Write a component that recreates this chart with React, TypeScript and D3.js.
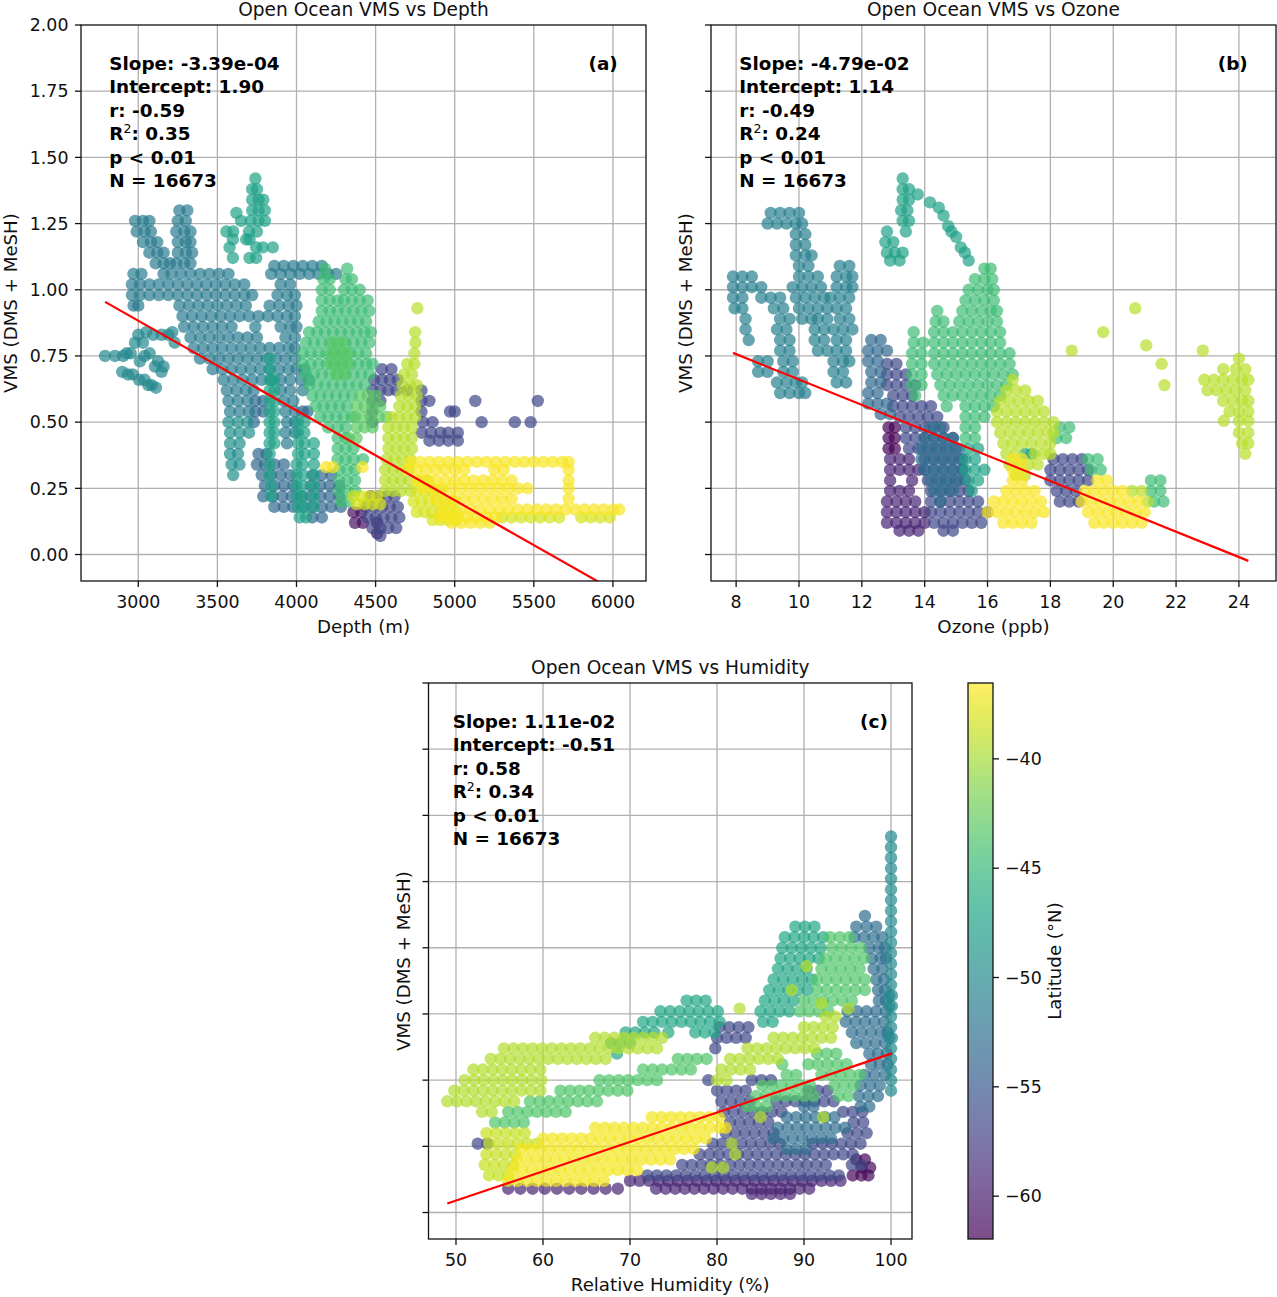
import * as d3 from "d3";
import { useEffect, useRef } from "react";

// [VMS value, x values along that VMS level]
type Row = [number, number[]];
// [latitude, rows of points]
type Group = [number, Row[]];

// ---- shared axes ----
const vmsTicks = [0, 0.25, 0.5, 0.75, 1.0, 1.25, 1.5, 1.75, 2.0];
const vmsRange: [number, number] = [-0.1, 2.0];
const latTicks = [-40, -45, -50, -55, -60];
const latRange: [number, number] = [-61.96, -36.53];

// ---- (a) VMS vs depth ----
const depthTicks = [3000, 3500, 4000, 4500, 5000, 5500, 6000];
const depthFit = [-3.39e-4, 1.9];
const depthStats = ["Slope: -3.39e-04", "Intercept: 1.90", "r: -0.59", "R2: 0.35", "p < 0.01", "N = 16673"];

const depthPurple: Row[] = [
  [0.16, [4360, 4410]], [0.12, [4370, 4420, 4510]], [0.08, [4510]],
];
const depthBlue: Row[] = [
  [0.70, [4540, 4600]],
  [0.66, [4490, 4540, 4590, 4640]],
  [0.62, [4480, 4530, 4580, 4630, 4700, 4790]],
  [0.58, [4480, 4530, 4790, 4840, 5130, 5525]],
  [0.54, [4480, 4790, 4970, 5000]],
  [0.50, [4480, 4800, 4860, 5170, 5380, 5480]],
  [0.46, [4790, 4850, 4910, 4960, 5020]],
  [0.43, [4840, 4900, 4960, 5020]],
  [0.22, [4470, 4520, 4570, 4620]],
  [0.18, [4440, 4490, 4540, 4590, 4640]],
  [0.14, [4450, 4500, 4550, 4600, 4650]],
  [0.10, [4480, 4530, 4580, 4630]],
  [0.07, [4530]],
];
const depthTealBlue: Row[] = [
  [0.58, [3740, 3790]],
  [0.54, [3740, 3790, 4040, 4070]],
  [0.50, [3730]],
  [0.38, [3760, 3810]],
  [0.34, [3750, 3800, 3860, 3920]],
  [0.30, [3780, 3840, 3900, 3960, 4100, 4160, 4220]],
  [0.26, [3800, 3860, 3920, 3980, 4090, 4150, 4210, 4270]],
  [0.22, [3790, 3850, 3910, 3970, 4030, 4090, 4150, 4210, 4270]],
  [0.18, [3860, 3920, 3980, 4040, 4100, 4160, 4220, 4280]],
  [0.14, [4100, 4160]],
];
const depthTeal: Row[] = [
  [1.30, [3260, 3310]],
  [1.26, [2980, 3030, 3070, 3250, 3300]],
  [1.22, [2990, 3040, 3080, 3240, 3290, 3330]],
  [1.18, [3030, 3080, 3120, 3250, 3300, 3330]],
  [1.14, [3070, 3120, 3160, 3250, 3300, 3340]],
  [1.10, [3110, 3160, 3200, 3240, 3290, 3330]],
  [1.09, [3860, 3920, 3980, 4040, 4100, 4160]],
  [1.06, [2970, 3020, 3160, 3210, 3270, 3330, 3390, 3450, 3510, 3570, 3840, 3900, 3960, 4020, 4080, 4140, 4200, 4250]],
  [1.02, [2960, 3010, 3070, 3130, 3190, 3250, 3310, 3370, 3430, 3490, 3550, 3610, 3670, 3900, 3960]],
  [0.98, [2960, 3010, 3070, 3130, 3190, 3250, 3310, 3370, 3430, 3490, 3550, 3610, 3670, 3720, 3880, 3940, 3990]],
  [0.94, [2970, 3000, 3260, 3320, 3380, 3440, 3500, 3560, 3620, 3680, 3830, 3890, 3950, 4000]],
  [0.90, [3280, 3340, 3400, 3460, 3520, 3580, 3640, 3700, 3760, 3820, 3880, 3940, 3990]],
  [0.86, [3290, 3350, 3410, 3470, 3530, 3590, 3740, 3900, 3960, 4000]],
  [0.82, [3330, 3390, 3450, 3510, 3570, 3630, 3690, 3750, 3930, 3990]],
  [0.78, [3350, 3410, 3470, 3530, 3590, 3650, 3710, 3770, 3830, 3890, 3950, 3990]],
  [0.74, [3390, 3450, 3510, 3570, 3630, 3690, 3750, 3810, 3870, 3930, 3990]],
  [0.70, [3470, 3530, 3590, 3650, 3710, 3770, 3830, 3890, 3950, 4000, 4050]],
  [0.66, [3540, 3600, 3660, 3720, 3780, 3840, 3900, 3960, 4030, 4080]],
  [0.62, [3560, 3620, 3680, 3730, 3900, 3960, 4040]],
  [0.58, [3570, 3630, 3690, 3920, 3980]],
  [0.54, [3580, 3640, 3700, 3930, 3990]],
  [0.50, [3940, 3990]],
  [0.46, [3930, 3990]],
  [0.42, [3940]],
];
const depthTealLeft: Row[] = [
  [0.84, [3050, 3215]],
  [0.83, [3000, 3094, 3147, 3190]],
  [0.80, [2979, 3030, 3230]],
  [0.76, [2926, 2952, 3072]],
  [0.75, [2790, 2853, 2905, 3040]],
  [0.73, [3010, 3125]],
  [0.71, [3105, 3160]],
  [0.69, [2899, 3147]],
  [0.68, [2935, 2965]],
  [0.66, [3005, 3040]],
  [0.64, [3063, 3085]],
  [0.63, [3112]],
];
const depthLobe: Row[] = [
  [0.50, [3570, 3630, 3690]],
  [0.46, [3580, 3640, 3700]],
  [0.42, [3580, 3640]],
  [0.38, [3580, 3630]],
  [0.34, [3590, 3640]],
  [0.30, [3600]],
];
const depthGreenTeal: Row[] = [
  [1.42, [3740]],
  [1.38, [3720, 3750]],
  [1.34, [3720, 3760, 3790]],
  [1.30, [3720, 3760, 3800]],
  [1.29, [3620]],
  [1.26, [3650, 3710, 3760, 3800]],
  [1.22, [3557, 3600, 3700, 3750]],
  [1.19, [3598, 3682, 3703]],
  [1.16, [3577, 3745, 3787, 3850]],
  [1.12, [3598, 3703, 3745]],
  [0.74, [3830]],
  [0.70, [3830]],
  [0.66, [3830, 3860]],
  [0.62, [3830, 3860]],
  [0.58, [3830, 3860]],
  [0.54, [3830, 3860]],
  [0.50, [3830, 3860, 4010, 4050]],
  [0.46, [3830, 3860, 4010, 4050]],
  [0.42, [3830, 3860, 4010, 4050, 4110]],
  [0.38, [3830, 4010, 4050, 4110]],
  [0.34, [3830, 4000, 4040, 4110]],
  [0.30, [3830, 4000, 4040, 4110]],
  [0.26, [3840, 4000, 4040, 4110]],
  [0.22, [3840, 4000, 4040, 4110]],
  [0.18, [4010, 4050, 4110]],
  [0.14, [4020, 4060]],
];
const depthGreen: Row[] = [
  [1.08, [4180, 4320]],
  [1.04, [4170, 4210, 4310, 4350]],
  [1.00, [4160, 4210, 4300, 4350, 4400]],
  [0.96, [4160, 4210, 4260, 4300, 4350, 4400, 4450]],
  [0.92, [4160, 4210, 4260, 4310, 4360, 4410, 4460]],
  [0.88, [4140, 4190, 4240, 4290, 4340, 4390, 4440]],
  [0.84, [4080, 4130, 4180, 4230, 4280, 4330, 4380, 4430, 4470]],
  [0.80, [4060, 4110, 4160, 4210, 4260, 4310, 4360, 4410, 4460]],
  [0.76, [4040, 4090, 4140, 4190, 4240, 4290, 4340, 4390, 4440]],
  [0.72, [4040, 4090, 4140, 4190, 4240, 4290, 4340, 4390, 4440, 4480]],
  [0.68, [4060, 4110, 4160, 4210, 4260, 4310, 4360, 4410, 4460]],
  [0.64, [4080, 4130, 4180, 4230, 4280, 4330, 4380, 4430]],
  [0.60, [4100, 4150, 4200, 4250, 4300, 4350]],
  [0.56, [4120, 4170, 4220, 4270, 4320]],
  [0.52, [4150, 4200, 4250, 4300, 4350]],
  [0.48, [4200, 4260, 4310]],
  [0.44, [4260, 4310]],
  [0.40, [4260, 4310, 4360]],
  [0.36, [4260, 4310, 4360, 4420]],
  [0.32, [4270, 4320, 4370]],
  [0.28, [4270, 4320, 4370]],
  [0.24, [4270, 4320, 4370]],
  [0.20, [4280, 4330]],
];
const depthLightGreen: Row[] = [
  [0.80, [4230, 4290]],
  [0.76, [4220, 4270, 4320]],
  [0.72, [4220, 4270, 4320]],
  [0.68, [4250, 4300]],
  [0.60, [4400, 4450, 4500]],
  [0.56, [4380, 4430, 4480, 4530]],
  [0.52, [4370, 4420, 4470, 4520, 4570]],
  [0.48, [4380, 4430, 4480]],
  [0.44, [4330, 4380]],
];
const depthYellowGreen: Row[] = [
  [0.93, [4764]], [0.84, [4750]], [0.80, [4752]], [0.76, [4745]],
  [0.72, [4700, 4745]],
  [0.68, [4680, 4730]],
  [0.64, [4670, 4720, 4760]],
  [0.60, [4660, 4710, 4760]],
  [0.56, [4650, 4700, 4750]],
  [0.52, [4600, 4650, 4700, 4750]],
  [0.48, [4580, 4630, 4680, 4730]],
  [0.44, [4580, 4630, 4680, 4730]],
  [0.40, [4580, 4630, 4680, 4730]],
  [0.36, [4570, 4620, 4670, 4720]],
  [0.32, [4560, 4610, 4660, 4710]],
  [0.28, [4560, 4610, 4660, 4710]],
  [0.24, [4560, 4610, 4660, 4720]],
];
const depthLime: Row[] = [
  [0.22, [4360, 4410, 4460, 4510]],
  [0.19, [4380, 4430, 4480, 4530]],
  [0.28, [4780, 4830]],
  [0.24, [4760, 4810, 4860, 4910]],
  [0.20, [4740, 4790, 4840, 4890, 4940, 4990]],
  [0.16, [4760, 4810, 4860, 4910, 4960, 5010]],
  [0.13, [4860, 4910, 4960, 5010]],
  [0.14, [5300, 5360, 5420, 5480, 5540, 5600, 5660, 5800, 5860, 5920, 5980]],
];
const depthYellow: Row[] = [
  [0.35, [4720, 4780, 4840, 4900, 4960, 5020, 5080, 5140, 5200, 5260, 5320, 5380, 5440, 5500, 5560, 5620, 5680, 5720]],
  [0.33, [4187, 4230, 4417]],
  [0.32, [4700, 4760, 4820, 4880, 4940, 5000, 5060, 5250, 5310, 5720]],
  [0.28, [4760, 4820, 4880, 4940, 5000, 5060, 5120, 5180, 5240, 5300, 5360, 5720]],
  [0.25, [4800, 4860, 4920, 4980, 5040, 5100, 5160, 5220, 5280, 5340, 5400, 5460, 5720]],
  [0.21, [4880, 4940, 5000, 5060, 5120, 5180, 5240, 5300, 5360, 5720]],
  [0.17, [4920, 4980, 5040, 5100, 5160, 5220, 5280, 5340, 5400, 5460, 5520, 5580, 5640, 5700, 5760, 5820, 5880, 5940, 6000, 6040]],
  [0.14, [4900, 4960, 5020, 5080, 5140, 5200, 5260]],
  [0.12, [4980, 5040, 5100, 5160, 5220]],
];
const depthGroups: Group[] = [
  [-61, depthPurple], [-56.5, depthBlue], [-53.5, depthTealBlue], [-51.5, depthTeal],
  [-50, depthTealLeft], [-49.5, depthLobe], [-47.5, depthGreenTeal], [-44.5, depthGreen],
  [-43, depthLightGreen], [-39.3, depthYellowGreen], [-38.2, depthLime], [-36.8, depthYellow],
];

// ---- (b) VMS vs ozone ----
const ozoneTicks = [8, 10, 12, 14, 16, 18, 20, 22, 24];
const ozoneFit = [-4.79e-2, 1.14];
const ozoneStats = ["Slope: -4.79e-02", "Intercept: 1.14", "r: -0.49", "R2: 0.24", "p < 0.01", "N = 16673"];

const ozoneDarkPurple: Row[] = [
  [0.48, [12.85, 13.05]], [0.44, [12.85, 13.05]], [0.40, [12.85, 13.05]],
];
const ozonePurple: Row[] = [
  [0.36, [12.9, 13.2, 13.5]],
  [0.32, [12.9, 13.2, 13.5, 13.8]],
  [0.28, [12.9, 13.6]],
  [0.24, [12.9, 13.2, 13.5]],
  [0.20, [12.8, 13.1, 13.4, 13.7]],
  [0.16, [12.8, 13.1, 13.4, 13.7, 14.0]],
  [0.12, [12.8, 13.1, 13.4, 13.7, 14.0]],
  [0.09, [13.2, 13.5, 13.8]],
];
const ozoneBlue: Row[] = [
  [0.72, [12.8, 13.1]],
  [0.68, [12.8, 13.1, 13.4]],
  [0.64, [12.8, 13.1, 13.4, 13.7]],
  [0.60, [13.0, 13.3, 13.6]],
  [0.56, [13.0, 13.3, 13.6, 13.9, 14.2]],
  [0.52, [13.2, 13.5, 13.8, 14.1, 14.4]],
  [0.48, [13.4, 13.7, 14.0, 14.3, 14.6]],
  [0.44, [13.4, 13.7, 14.0, 14.3, 14.6, 14.9]],
  [0.40, [13.5, 13.8, 14.1, 14.4, 14.7, 15.0]],
  [0.36, [14.0, 14.3, 14.6, 14.9, 15.2, 18.1, 18.4, 18.7, 19.0]],
  [0.32, [14.0, 14.3, 14.6, 14.9, 15.2, 18.0, 18.3, 18.6, 18.9, 19.2]],
  [0.28, [14.1, 14.4, 14.7, 15.0, 15.3, 18.0, 18.3, 18.6, 18.9, 19.2]],
  [0.24, [14.2, 14.5, 14.8, 15.1, 15.4, 18.2, 18.5, 18.8]],
  [0.20, [14.2, 14.5, 14.8, 15.1, 15.4, 15.7, 18.3, 18.6, 18.9]],
  [0.16, [14.2, 14.5, 14.8, 15.1, 15.4, 15.7, 16.0]],
  [0.12, [14.3, 14.6, 14.9, 15.2, 15.5, 15.8]],
  [0.09, [14.6, 14.9]],
];
const ozoneTealBlue: Row[] = [
  [0.81, [12.3, 12.6]],
  [0.77, [12.2, 12.5, 12.8]],
  [0.73, [12.2, 12.5]],
  [0.69, [12.3, 12.6]],
  [0.65, [12.3, 12.6]],
  [0.61, [12.2, 12.5]],
  [0.57, [12.2, 12.5, 12.8]],
  [0.53, [12.6, 12.9]],
];
const ozoneTealMid: Row[] = [
  [0.48, [14.2, 14.5]],
  [0.44, [14.0, 14.3, 14.6, 14.9]],
  [0.40, [13.9, 14.2, 14.5, 14.8, 15.1]],
  [0.36, [13.9, 14.2, 14.5, 14.8, 15.1]],
  [0.32, [14.0, 14.3, 14.6, 14.9, 15.2]],
  [0.28, [14.2, 14.5, 14.8, 15.1]],
  [0.24, [14.3, 14.6, 14.9]],
  [0.20, [14.5]],
];
const ozoneTeal: Row[] = [
  [1.29, [9.1, 9.4, 9.7, 10.0]],
  [1.25, [9.0, 9.3, 9.6, 9.9, 10.1]],
  [1.21, [9.9, 10.2]],
  [1.17, [9.9, 10.2]],
  [1.13, [9.9, 10.2, 10.4]],
  [1.09, [10.0, 10.3, 11.3, 11.6]],
  [1.05, [7.9, 8.2, 8.5, 10.0, 10.3, 10.6, 11.2, 11.5, 11.7]],
  [1.01, [7.9, 8.2, 8.5, 8.8, 9.8, 10.1, 10.4, 10.7, 11.2, 11.5, 11.7]],
  [0.97, [7.9, 8.2, 8.8, 9.1, 9.4, 9.9, 10.2, 10.5, 10.8, 11.0, 11.3, 11.6]],
  [0.93, [7.95, 8.2, 9.2, 9.5, 10.0, 10.3, 10.6, 10.9, 11.2, 11.5]],
  [0.89, [8.3, 9.4, 9.7, 10.1, 10.4, 10.6, 10.9, 11.3, 11.6]],
  [0.85, [8.3, 9.3, 9.6, 10.5, 10.8, 11.1, 11.4, 11.7]],
  [0.81, [8.4, 9.4, 9.7, 10.5, 10.8, 11.2, 11.5]],
  [0.77, [9.4, 9.7, 10.6, 10.9, 11.2, 11.5]],
  [0.73, [8.7, 9.0, 9.5, 9.8, 11.1, 11.4, 11.6]],
  [0.69, [8.7, 9.0, 9.5, 9.8, 11.1, 11.4]],
  [0.65, [9.3, 9.6, 9.9, 10.1, 11.2, 11.5]],
  [0.61, [9.4, 9.7, 10.0, 10.2]],
];
const ozoneGreenTeal: Row[] = [
  [1.42, [13.3]],
  [1.38, [13.3, 13.5]],
  [1.36, [13.78]],
  [1.34, [13.3, 13.5]],
  [1.33, [14.17]],
  [1.31, [14.45]],
  [1.30, [13.25, 13.45]],
  [1.28, [14.6]],
  [1.26, [13.3, 13.5]],
  [1.24, [14.75]],
  [1.22, [12.8, 13.4, 14.85]],
  [1.20, [15.0]],
  [1.18, [12.75, 13.0]],
  [1.16, [15.15]],
  [1.14, [12.8, 13.05, 13.3, 15.28]],
  [1.11, [12.9, 13.2, 15.4]],
  [0.40, [15.4, 15.7]],
  [0.38, [17.2, 17.4]],
  [0.36, [15.3, 15.6]],
  [0.32, [15.3, 15.6, 15.9]],
  [0.28, [15.4, 15.7]],
  [0.24, [15.5]],
];
const ozoneGreen: Row[] = [
  [1.08, [15.9, 16.1]],
  [1.04, [15.6, 15.9, 16.15]],
  [1.00, [15.4, 15.7, 16.0, 16.2]],
  [0.96, [15.3, 15.6, 15.9, 16.2]],
  [0.92, [14.4, 15.2, 15.5, 15.8, 16.1, 16.3]],
  [0.88, [14.35, 14.6, 15.1, 15.4, 15.7, 16.0, 16.3]],
  [0.84, [13.65, 14.3, 14.6, 14.9, 15.2, 15.5, 15.8, 16.1, 16.4]],
  [0.80, [13.65, 13.95, 14.3, 14.6, 14.9, 15.2, 15.5, 15.8, 16.1, 16.4]],
  [0.76, [13.6, 13.9, 14.3, 14.6, 14.9, 15.2, 15.5, 15.8, 16.1, 16.4, 16.7]],
  [0.72, [13.6, 13.9, 14.3, 14.6, 14.9, 15.2, 15.5, 15.8, 16.1, 16.4, 16.7]],
  [0.68, [13.6, 13.9, 14.4, 14.7, 15.0, 15.3, 15.6, 15.9, 16.2, 16.5, 16.8]],
  [0.64, [13.6, 13.9, 14.5, 14.8, 15.1, 15.4, 15.7, 16.0, 16.3, 16.6]],
  [0.60, [13.7, 14.6, 14.9, 15.2, 15.5, 15.8, 16.1, 16.4]],
  [0.56, [14.7, 15.3, 15.6, 15.9, 16.2]],
  [0.52, [15.3, 15.6, 15.9]],
  [0.48, [15.3, 15.6, 18.3, 18.6]],
  [0.44, [15.3, 15.6, 18.2, 18.5]],
  [0.36, [19.2, 19.5]],
  [0.32, [19.3, 19.6]],
  [0.28, [21.2, 21.5]],
  [0.24, [21.2, 21.5]],
  [0.20, [21.3, 21.6]],
];
const ozoneYellowGreen: Row[] = [
  [0.66, [16.8]],
  [0.62, [16.6, 16.9, 17.2]],
  [0.58, [16.4, 16.7, 17.0, 17.3, 17.6]],
  [0.54, [16.3, 16.6, 16.9, 17.2, 17.5, 17.8]],
  [0.50, [16.3, 16.6, 16.9, 17.2, 17.5, 17.8, 18.1]],
  [0.46, [16.4, 16.7, 17.0, 17.3, 17.6, 17.9, 18.1]],
  [0.42, [16.5, 16.8, 17.1, 17.4, 17.7, 18.0]],
  [0.38, [16.6, 16.9, 17.5, 17.8, 18.0]],
  [0.34, [16.7, 17.0, 17.3, 17.6]],
  [0.30, [16.9, 17.2]],
  [0.24, [20.6, 20.9]],
  [0.20, [21.1]],
  [0.93, [20.7]],
  [0.84, [19.68]],
  [0.79, [21.05]],
  [0.77, [18.68, 22.85]],
  [0.72, [21.54]],
  [0.64, [21.63]],
  [0.74, [24.0]],
  [0.70, [23.5, 23.9, 24.2]],
  [0.66, [22.9, 23.2, 23.5, 23.8, 24.1, 24.3]],
  [0.62, [23.0, 23.3, 23.6, 23.9, 24.2]],
  [0.58, [23.5, 23.8, 24.1, 24.3]],
  [0.54, [23.7, 24.0, 24.3]],
  [0.505, [23.52, 24.0, 24.3]],
  [0.46, [24.0, 24.3]],
  [0.42, [24.1, 24.3]],
  [0.38, [24.2]],
];
const ozoneYellow: Row[] = [
  [0.36, [16.8, 17.1]],
  [0.32, [16.8, 17.1]],
  [0.28, [16.8, 17.1, 19.5, 19.8]],
  [0.24, [16.6, 16.9, 17.2, 17.5, 19.1, 19.4, 19.7, 20.0, 20.3]],
  [0.20, [16.2, 16.5, 16.8, 17.1, 17.4, 17.7, 19.0, 19.3, 19.6, 19.9, 20.2, 20.5, 20.8]],
  [0.16, [16.0, 16.3, 16.6, 16.9, 17.2, 17.5, 17.8, 19.2, 19.5, 19.8, 20.1, 20.4, 20.7, 21.0]],
  [0.12, [16.5, 16.8, 17.1, 17.4, 19.4, 19.7, 20.0, 20.3, 20.6, 20.9]],
];
const ozoneGroups: Group[] = [
  [-61.8, ozoneDarkPurple], [-59.5, ozonePurple], [-56.5, ozoneBlue], [-53.5, ozoneTealBlue],
  [-52.5, ozoneTealMid], [-51, ozoneTeal], [-47.5, ozoneGreenTeal], [-44.5, ozoneGreen],
  [-39.3, ozoneYellowGreen], [-36.8, ozoneYellow],
];

// ---- (c) VMS vs relative humidity ----
const humidityTicks = [50, 60, 70, 80, 90, 100];
const humidityFit = [1.11e-2, -0.51];
const humidityStats = ["Slope: 1.11e-02", "Intercept: -0.51", "r: 0.58", "R2: 0.34", "p < 0.01", "N = 16673"];

const humPurple: Row[] = [
  [0.12, [70.0, 71.1, 72.2, 73.3, 74.4, 75.5, 76.6, 77.7, 78.8, 79.9, 81.0, 82.1, 83.2, 84.3, 85.4, 86.5, 87.6, 88.7, 89.8, 90.9, 92.0, 93.1, 94.2]],
  [0.09, [56.0, 57.4, 58.8, 60.2, 61.6, 63.0, 64.4, 65.8, 67.2, 68.6, 73.0, 74.1, 75.2, 76.3, 77.4, 78.5, 79.6, 80.7, 81.8, 82.9, 84.0, 85.1, 86.2, 87.3, 88.4, 89.5, 90.6]],
  [0.07, [84.0, 85.1, 86.2, 87.3, 88.4]],
];
const humDarkPurple: Row[] = [
  [0.20, [96.0, 97.0]], [0.17, [96.6, 97.6]], [0.14, [95.6, 96.6, 97.4]],
];
const humBlue: Row[] = [
  [0.70, [80.3, 81.4, 82.5, 83.6]],
  [0.66, [80.0, 81.1, 82.2, 83.3]],
  [0.62, [79.8]],
  [0.50, [79.0, 84.0, 85.1, 86.2]],
  [0.46, [80.0, 81.1, 82.2, 83.3, 90.5, 91.6, 92.7]],
  [0.42, [80.5, 81.6, 82.7, 83.8, 86.8, 87.9, 89.0, 90.1, 91.2, 92.3, 93.4]],
  [0.38, [80.8, 81.9, 83.0, 84.1, 85.2, 86.3, 87.4, 94.5, 95.6, 96.7]],
  [0.34, [81.5, 82.6, 83.7, 84.8, 85.9, 95.7, 96.8]],
  [0.30, [81.0, 82.1, 83.2, 84.3, 85.4, 86.5, 95.0, 96.1, 97.2]],
  [0.26, [52.5, 53.6, 79.5, 80.6, 81.7, 82.8, 83.9, 85.0, 86.1, 87.2, 91.0, 92.1, 93.2, 94.3, 95.4, 96.5]],
  [0.22, [78.0, 79.1, 80.2, 81.3, 82.4, 83.5, 84.6, 85.7, 86.8, 87.9, 89.0, 90.1, 91.2, 92.3, 93.4, 94.5, 95.6]],
  [0.18, [76.0, 77.1, 78.2, 79.3, 80.4, 81.5, 82.6, 83.7, 84.8, 85.9, 87.0, 88.1, 89.2, 90.3, 91.4, 92.5, 95.5, 96.6]],
  [0.14, [72.0, 73.1, 74.2, 75.3, 76.4, 77.5, 78.6, 79.7, 80.8, 81.9, 83.0, 84.1, 85.2, 86.3, 87.4, 88.5, 89.6, 90.7, 91.8, 92.9, 94.0]],
];
const humTealBlue: Row[] = [
  [1.12, [97.0]],
  [1.08, [96.0, 97.2, 98.3]],
  [1.04, [95.8, 96.9, 98.0, 99.0]],
  [1.00, [97.5, 98.6, 99.3]],
  [0.96, [97.8, 98.8, 99.4]],
  [0.92, [98.0, 99.0]],
  [0.88, [98.3, 99.2]],
  [0.84, [98.5, 99.3]],
  [0.80, [98.6, 99.4]],
  [0.76, [95.0, 96.1, 97.2, 98.3, 99.4]],
  [0.72, [94.8, 95.9, 97.0, 98.1, 99.2]],
  [0.68, [95.5, 96.6, 97.7, 98.8, 99.6]],
  [0.64, [96.0, 97.1, 98.2, 99.3]],
  [0.60, [97.5, 98.5, 99.5]],
  [0.56, [97.7, 98.7, 99.6]],
  [0.52, [97.0, 98.1, 99.3]],
  [0.48, [96.5, 97.6, 98.7]],
  [0.44, [96.3, 97.4, 98.5]],
  [0.40, [90.0, 91.1, 96.5, 97.5]],
  [0.36, [88.0, 89.1, 90.2, 91.3, 92.4, 93.5]],
  [0.32, [87.0, 88.1, 89.2, 90.3, 91.4, 92.5, 93.6, 94.7]],
  [0.28, [86.5, 87.6, 88.7, 89.8, 90.9, 92.0, 93.1]],
  [0.24, [88.0, 89.1, 90.2]],
];
const humSpike: Row[] = [
  [1.42, [100]], [1.38, [100]], [1.34, [100]], [1.30, [100]], [1.26, [100]], [1.22, [100]],
  [1.18, [100]], [1.14, [100]], [1.10, [100]], [1.06, [100]], [1.02, [100]], [0.98, [100]],
  [0.94, [100]], [0.90, [100]], [0.86, [100]], [0.82, [99.8, 100.1]], [0.78, [99.8, 100.1]],
  [0.74, [100]], [0.70, [100]], [0.66, [99.8, 100.1]], [0.62, [100]], [0.58, [100]],
  [0.54, [100]], [0.50, [100]], [0.46, [100]],
];
const humGreenTeal: Row[] = [
  [1.08, [89.0, 90.1, 91.2]],
  [1.04, [87.8, 88.9, 90.0, 91.1, 92.2]],
  [1.00, [87.5, 88.6, 89.7, 90.8, 91.9]],
  [0.96, [87.3, 88.4, 89.5, 90.6, 91.7]],
  [0.92, [87.0, 88.1, 89.2, 90.3]],
  [0.88, [86.5, 87.6, 88.7, 89.8, 90.9]],
  [0.84, [86.0, 87.1, 88.2, 89.3, 90.4]],
  [0.80, [76.5, 77.6, 78.7, 85.5, 86.6, 87.7, 88.8]],
  [0.76, [73.5, 74.6, 75.7, 76.8, 77.9, 79.0, 80.1, 85.0, 86.1, 87.2, 88.3]],
  [0.72, [71.5, 72.6, 73.7, 74.8, 75.9, 77.0, 78.1, 79.2, 80.3, 85.3, 86.4]],
  [0.68, [69.5, 70.6, 71.7, 72.8, 74.4, 77.5, 78.6, 79.7]],
  [0.64, [67.8, 68.9, 70.0]],
  [0.60, [68.5]],
];
const humGreen: Row[] = [
  [1.04, [93.0, 94.1, 95.2]],
  [1.00, [93.2, 94.3, 95.4, 96.5]],
  [0.96, [92.5, 93.6, 94.7, 95.8, 96.9]],
  [0.92, [92.0, 93.1, 94.2, 95.3, 96.4]],
  [0.88, [91.5, 92.6, 93.7, 94.8, 95.9, 97.0]],
  [0.84, [91.5, 92.6, 93.7, 94.8, 95.9, 97.0]],
  [0.80, [90.0, 91.1, 92.2, 93.3, 94.4, 95.5]],
  [0.76, [89.5, 90.6, 91.7, 92.8]],
  [0.60, [91.5, 92.6, 93.7]],
  [0.58, [75.5, 76.6, 77.7, 78.8]],
  [0.56, [87.5, 90.5, 91.6, 92.7, 93.8, 94.9]],
  [0.54, [71.5, 72.6, 73.7, 74.8, 75.9, 77.0]],
  [0.52, [88.0, 89.1, 92.0, 93.1, 94.2, 95.3, 96.4]],
  [0.50, [66.5, 67.6, 68.7, 69.8, 70.9, 72.0, 73.1]],
  [0.48, [85.2, 86.3, 87.4, 88.5, 89.6, 90.7, 93.5, 94.6, 95.7]],
  [0.46, [62.0, 63.1, 64.2, 65.3, 66.4, 67.5, 68.6, 69.7]],
  [0.44, [84.5, 85.6, 86.7, 87.8, 88.9, 90.0, 91.1, 94.0, 95.1]],
  [0.42, [58.5, 59.6, 60.7, 61.8, 62.9, 64.0, 65.1, 66.2]],
  [0.40, [83.5, 84.6, 85.7]],
  [0.38, [56.0, 57.1, 58.2, 59.3, 60.4, 61.5, 62.6]],
  [0.34, [54.5, 55.6, 56.7, 57.8]],
];
const humLime: Row[] = [
  [0.30, [53.5, 54.6, 55.7, 56.8, 57.9]],
  [0.26, [53.8, 54.9, 56.0, 57.1, 58.2, 59.3]],
  [0.22, [53.5, 54.6, 55.7, 56.8]],
  [0.18, [53.3, 54.4, 55.5, 56.6]],
  [0.14, [53.8, 54.9, 56.0]],
];
const humYellow: Row[] = [
  [0.36, [72.5, 73.6, 74.7, 75.8, 76.9, 78.0, 79.1, 80.2]],
  [0.32, [66.0, 67.1, 68.2, 69.3, 70.4, 71.5, 72.6, 73.7, 74.8, 75.9, 77.0, 78.1, 79.2, 80.3, 81.0]],
  [0.28, [60.0, 61.1, 62.2, 63.3, 64.4, 65.5, 66.6, 67.7, 68.8, 69.9, 71.0, 72.1, 73.2, 74.3, 75.4, 76.5, 77.6, 78.7]],
  [0.24, [57.5, 58.6, 59.7, 60.8, 61.9, 63.0, 64.1, 65.2, 66.3, 67.4, 68.5, 69.6, 70.7, 71.8, 72.9, 74.0, 75.1, 76.2, 77.3]],
  [0.20, [57.0, 58.1, 59.2, 60.3, 61.4, 62.5, 63.6, 64.7, 65.8, 66.9, 68.0, 69.1, 70.2, 71.3, 72.4, 73.5, 74.6]],
  [0.16, [56.5, 57.6, 58.7, 59.8, 60.9, 62.0, 63.1, 64.2, 65.3, 66.4, 67.5, 68.6, 69.7, 70.8]],
  [0.12, [56.0, 57.1, 58.2, 59.3, 60.4, 61.5, 62.6, 63.7, 64.8, 65.9, 67.0]],
];
const humYellowGreen: Row[] = [
  [0.66, [66.0, 67.1, 68.2, 69.3, 70.4, 71.5, 72.6, 73.7]],
  [0.62, [55.5, 56.6, 57.7, 58.8, 59.9, 61.0, 62.1, 63.2, 64.3, 65.4, 66.5, 67.6, 68.7, 69.8, 70.9, 72.0, 73.1]],
  [0.58, [54.0, 55.1, 56.2, 57.3, 58.4, 59.5, 60.6, 61.7, 62.8, 63.9, 65.0, 66.1, 67.2]],
  [0.54, [52.0, 53.1, 54.2, 55.3, 56.4, 57.5, 58.6, 59.7]],
  [0.50, [51.0, 52.1, 53.2, 54.3, 55.4, 56.5, 57.6, 58.7, 59.8]],
  [0.46, [49.8, 50.9, 52.0, 53.1, 54.2, 55.3, 56.4, 57.5, 58.6, 59.7]],
  [0.42, [49.0, 50.1, 51.2, 52.3, 53.4, 54.5, 55.6, 56.7]],
  [0.38, [53.0, 54.1]],
  [0.74, [92.5, 93.6]],
  [0.70, [90.0, 91.1, 92.2, 93.3]],
  [0.66, [86.5, 87.6, 88.7, 89.8, 90.9, 92.0, 93.1]],
  [0.62, [83.5, 84.6, 85.7, 86.8, 87.9, 89.0, 90.1, 91.2]],
  [0.58, [81.5, 82.6, 83.7, 84.8, 85.9, 87.0]],
  [0.54, [80.5, 81.6, 82.7, 83.8]],
  [0.50, [80.0, 81.1]],
  [0.93, [90.3]], [0.84, [88.6]], [0.79, [92.0]], [0.77, [82.6, 95.1]],
  [0.36, [85.0, 92.2]], [0.26, [81.7]], [0.22, [82.1]], [0.17, [79.4, 80.7]],
];
const humidityGroups: Group[] = [
  [-59.5, humPurple], [-61.5, humDarkPurple], [-56.5, humBlue], [-53, humTealBlue],
  [-50, humSpike], [-47, humGreenTeal], [-43.5, humGreen], [-38.8, humLime],
  [-37, humYellow], [-39.5, humYellowGreen],
];

type Panel = {
  id: string;
  box: [number, number, number, number]; // left, top, right, bottom (px)
  xDomain: [number, number];
  xTicks: number[];
  groups: Group[];
  fit: number[];
  stats: string[];
  tag: string;
  title: string;
  xLabel: string;
  yTickLabels: boolean;
};

const FONT = "DejaVu Sans, sans-serif";
const color = d3.scaleSequential(d3.interpolateViridis).domain(latRange);

function drawPanel(svg: d3.Selection<SVGSVGElement, unknown, null, undefined>, p: Panel) {
  const [L, T, R, B] = p.box;
  const x = d3.scaleLinear().domain(p.xDomain).range([L, R]);
  const y = d3.scaleLinear().domain(vmsRange).range([B, T]);
  const g = svg.append("g");

  g.append("clipPath").attr("id", p.id)
    .append("rect").attr("x", L).attr("y", T).attr("width", R - L).attr("height", B - T);

  // --- grid ---
  g.append("g").selectAll("line").data(p.xTicks).join("line")
    .attr("x1", d => x(d)).attr("x2", d => x(d)).attr("y1", T).attr("y2", B)
    .attr("stroke", "#b0b0b0").attr("stroke-width", 1.3);
  g.append("g").selectAll("line").data(vmsTicks.filter(v => y(v) > T + 1)).join("line")
    .attr("x1", L).attr("x2", R).attr("y1", d => y(d)).attr("y2", d => y(d))
    .attr("stroke", "#b0b0b0").attr("stroke-width", 1.3);

  // --- points ---
  const pts = p.groups.flatMap(([lat, rows]) =>
    rows.flatMap(([v, xs]) => xs.map(h => ({ h, v, lat })))
  );
  g.append("g").attr("clip-path", `url(#${p.id})`)
    .selectAll("circle").data(pts).join("circle")
    .attr("cx", d => x(d.h)).attr("cy", d => y(d.v)).attr("r", 6.2)
    .attr("fill", d => color(d.lat)).attr("fill-opacity", 0.7);

  // --- regression line ---
  const [x0, x1] = d3.extent(pts, d => d.h) as [number, number];
  g.append("line").attr("clip-path", `url(#${p.id})`)
    .attr("x1", x(x0)).attr("y1", y(p.fit[0] * x0 + p.fit[1]))
    .attr("x2", x(x1)).attr("y2", y(p.fit[0] * x1 + p.fit[1]))
    .attr("stroke", "red").attr("stroke-width", 2.2);

  // --- frame ---
  g.append("rect").attr("x", L).attr("y", T).attr("width", R - L).attr("height", B - T)
    .attr("fill", "none").attr("stroke", "#111").attr("stroke-width", 1.3);

  // --- x ticks ---
  const xt = g.append("g");
  xt.selectAll("line").data(p.xTicks).join("line")
    .attr("x1", d => x(d)).attr("x2", d => x(d)).attr("y1", B).attr("y2", B + 6)
    .attr("stroke", "#111").attr("stroke-width", 1.3);
  xt.selectAll("text").data(p.xTicks).join("text")
    .attr("x", d => x(d)).attr("y", B + 27.3).attr("text-anchor", "middle")
    .attr("font-size", 17.4).attr("font-family", FONT).attr("fill", "#111")
    .text(d => String(d));

  // --- y ticks ---
  const yt = g.append("g");
  yt.selectAll("line").data(vmsTicks).join("line")
    .attr("x1", L - 6).attr("x2", L).attr("y1", d => y(d)).attr("y2", d => y(d))
    .attr("stroke", "#111").attr("stroke-width", 1.3);
  if (p.yTickLabels) {
    yt.selectAll("text").data(vmsTicks).join("text")
      .attr("x", L - 12.5).attr("y", d => y(d) + 6.3).attr("text-anchor", "end")
      .attr("font-size", 17.4).attr("font-family", FONT).attr("fill", "#111")
      .text(d => d3.format(".2f")(d));
  }

  // --- labels ---
  g.append("text").attr("x", (L + R) / 2).attr("y", T - 9.4).attr("text-anchor", "middle")
    .attr("font-size", 18.6).attr("font-family", FONT).attr("fill", "#111").text(p.title);
  g.append("text").attr("x", (L + R) / 2).attr("y", B + 52).attr("text-anchor", "middle")
    .attr("font-size", 18.2).attr("font-family", FONT).attr("fill", "#111").text(p.xLabel);
  const yl = p.yTickLabels ? L - 64.5 : L - 19;
  g.append("text").attr("transform", `translate(${yl},${(T + B) / 2}) rotate(-90)`)
    .attr("text-anchor", "middle").attr("font-size", 18.2).attr("font-family", FONT)
    .attr("fill", "#111").text("VMS (DMS + MeSH)");

  // --- stats block ---
  const sx = L + 0.05 * (R - L);
  const sy = T + 0.05 * (B - T) + 16.8;
  p.stats.forEach((s, i) => {
    const t = g.append("text").attr("x", sx).attr("y", sy + i * 23.5)
      .attr("font-size", 18.4).attr("font-weight", "bold").attr("font-family", FONT).attr("fill", "#000");
    if (s.startsWith("R2")) {
      t.append("tspan").text("R");
      t.append("tspan").attr("dy", -7).attr("font-size", 12.5).attr("font-weight", "normal").text("2");
      t.append("tspan").attr("dy", 7).text(s.slice(2));
    } else {
      t.text(s);
    }
  });
  g.append("text").attr("x", R - 0.05 * (R - L)).attr("y", sy).attr("text-anchor", "end")
    .attr("font-size", 18.4).attr("font-weight", "bold").attr("font-family", FONT).attr("fill", "#000")
    .text(p.tag);
}

function drawColorbar(svg: d3.Selection<SVGSVGElement, unknown, null, undefined>) {
  const L = 968, R = 993, T = 683, B = 1239;
  const y = d3.scaleLinear().domain(latRange).range([B, T]);
  const grad = svg.append("defs").append("linearGradient").attr("id", "cbar")
    .attr("x1", 0).attr("y1", 1).attr("x2", 0).attr("y2", 0);
  grad.selectAll("stop").data(d3.range(0, 1.0001, 0.05)).join("stop")
    .attr("offset", d => d).attr("stop-color", d => d3.interpolateViridis(d)).attr("stop-opacity", 0.7);
  svg.append("rect").attr("x", L).attr("y", T).attr("width", R - L).attr("height", B - T)
    .attr("fill", "url(#cbar)").attr("stroke", "#111").attr("stroke-width", 1.3);
  const g = svg.append("g");
  g.selectAll("line").data(latTicks).join("line")
    .attr("x1", R).attr("x2", R + 6).attr("y1", d => y(d)).attr("y2", d => y(d))
    .attr("stroke", "#111").attr("stroke-width", 1.3);
  g.selectAll("text").data(latTicks).join("text")
    .attr("x", R + 12).attr("y", d => y(d) + 6.3)
    .attr("font-size", 17.4).attr("font-family", FONT).attr("fill", "#111")
    .text(d => `\u2212${Math.abs(d)}`);
  svg.append("text").attr("transform", `translate(1061,${(T + B) / 2}) rotate(-90)`)
    .attr("text-anchor", "middle").attr("font-size", 18.2).attr("font-family", FONT)
    .attr("fill", "#111").text("Latitude (°N)");
}

const panels: Panel[] = [
  {
    id: "clip-a", box: [81, 25, 646, 581], xDomain: [2638, 6209], xTicks: depthTicks,
    groups: depthGroups, fit: depthFit, stats: depthStats, tag: "(a)",
    title: "Open Ocean VMS vs Depth", xLabel: "Depth (m)", yTickLabels: true,
  },
  {
    id: "clip-b", box: [711, 25, 1276, 581], xDomain: [7.2, 25.18], xTicks: ozoneTicks,
    groups: ozoneGroups, fit: ozoneFit, stats: ozoneStats, tag: "(b)",
    title: "Open Ocean VMS vs Ozone", xLabel: "Ozone (ppb)", yTickLabels: false,
  },
  {
    id: "clip-c", box: [428.5, 683, 912, 1239], xDomain: [46.84, 102.41], xTicks: humidityTicks,
    groups: humidityGroups, fit: humidityFit, stats: humidityStats, tag: "(c)",
    title: "Open Ocean VMS vs Humidity", xLabel: "Relative Humidity (%)", yTickLabels: false,
  },
];

export default function App() {
  const svgRef = useRef<SVGSVGElement | null>(null);
  useEffect(() => {
    if (!svgRef.current) return;
    const svg = d3.select(svgRef.current);
    svg.selectAll("*").remove();
    svg.append("rect").attr("width", 1277).attr("height", 1297).attr("fill", "#fff");
    panels.forEach(p => drawPanel(svg, p));
    drawColorbar(svg);
  }, []);
  return (
    <div style={{ position: "absolute", left: 0, top: 0 }}>
      <svg ref={svgRef} width={1277} height={1297} style={{ display: "block" }} />
    </div>
  );
}
